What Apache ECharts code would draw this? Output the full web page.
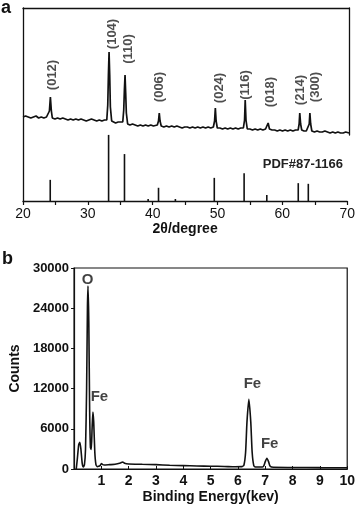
<!DOCTYPE html>
<html>
<head>
<meta charset="utf-8">
<script src="https://cdn.jsdelivr.net/npm/echarts@6/dist/echarts.min.js"></script>
<style>
  html, body { margin: 0; padding: 0; background: #fff; }
  #chart { width: 358px; height: 507px; }
</style>
</head>
<body>
<div id="chart"></div>
<script>
// XRD measured trace, [2theta, intensity a.u.]
const xrdTrace = [
  [20.0, 18], [20.4, 19], [20.8, 18], [21.2, 17], [21.6, 18], [22.0, 19], [22.4, 17], [22.8, 18],
  [23.2, 17], [23.6, 18], [23.9, 18], [24.05, 24], [24.2, 38], [24.35, 24], [24.5, 17], [24.9, 16],
  [25.3, 17], [25.7, 16], [26.1, 17], [26.5, 16], [26.9, 15], [27.3, 16], [27.7, 15], [28.1, 16],
  [28.5, 15], [28.9, 16], [29.3, 15], [29.7, 14], [30.1, 15], [30.5, 16], [30.9, 15], [31.3, 14],
  [31.7, 15], [32.1, 14], [32.5, 15], [32.85, 15], [33.0, 30], [33.1, 60], [33.2, 83], [33.3, 60],
  [33.4, 28], [33.6, 14], [33.9, 13], [34.2, 12], [34.6, 13], [34.9, 12], [35.3, 13], [35.45, 25],
  [35.55, 45], [35.65, 60], [35.75, 42], [35.85, 22], [36.05, 11], [36.4, 10], [36.8, 11], [37.2, 10],
  [37.6, 9], [38.0, 10], [38.4, 9], [38.8, 10], [39.2, 9], [39.6, 10], [40.0, 9], [40.3, 10],
  [40.6, 10], [40.78, 14], [40.9, 22], [41.02, 14], [41.2, 9], [41.6, 8], [42.0, 9], [42.4, 8],
  [42.8, 9], [43.2, 8], [43.6, 9], [44.0, 8], [44.4, 7], [44.8, 8], [45.2, 8], [45.6, 7],
  [46.0, 8], [46.4, 7], [46.8, 8], [47.2, 7], [47.6, 8], [48.0, 7], [48.4, 8], [48.8, 7],
  [49.2, 8], [49.38, 14], [49.5, 27], [49.62, 14], [49.8, 7], [50.2, 7], [50.6, 6], [51.0, 7],
  [51.4, 6], [51.8, 7], [52.2, 6], [52.6, 7], [53.0, 6], [53.4, 7], [53.8, 7], [53.98, 15],
  [54.08, 35], [54.2, 15], [54.4, 6], [54.8, 6], [55.2, 5], [55.6, 6], [56.0, 5], [56.4, 6],
  [56.8, 5], [57.2, 6], [57.4, 6], [57.6, 12], [57.8, 6], [58.2, 5], [58.6, 5], [59.0, 4],
  [59.4, 5], [59.8, 4], [60.2, 5], [60.6, 4], [61.0, 5], [61.4, 4], [61.8, 5], [62.2, 5],
  [62.35, 11], [62.45, 22], [62.58, 11], [62.75, 5], [63.1, 4], [63.45, 4], [63.75, 5], [63.9, 11],
  [64.0, 22], [64.12, 11], [64.3, 4], [64.7, 3], [65.1, 4], [65.5, 3], [65.9, 3], [66.3, 4],
  [66.7, 3], [67.1, 2], [67.5, 3], [67.9, 2], [68.3, 3], [68.7, 2], [69.1, 2], [69.5, 3], [70.0, 2]
];

// reference pattern PDF#87-1166, [2theta, relative intensity]
const pdfSticks = [
  [24.2, 32], [33.2, 100], [35.65, 71], [39.3, 3], [40.9, 20], [43.5, 3],
  [49.5, 35], [54.1, 42], [57.6, 9], [62.45, 27], [64.0, 26]
];

// Miller index labels: [2theta, label height a.u.]
const hklNames = ['(012)', '(104)', '(110)', '(006)', '(024)', '(116)', '(018)', '(214)', '(300)'];
const hklAnchors = [
  [24.45, 60], [33.65, 101], [36.1, 86], [41.0, 48], [50.2, 47],
  [54.05, 50], [57.9, 43], [62.6, 45], [64.9, 48]
];

// EDS spectrum, [keV, counts]
const edsSpectrum = [
  [0.08, 0], [0.12, 1500], [0.17, 3600], [0.21, 4000], [0.25, 3000], [0.3, 800], [0.34, 300],
  [0.38, 600], [0.42, 3000], [0.46, 12000], [0.49, 24000], [0.51, 27300], [0.54, 22000],
  [0.57, 9000], [0.6, 3200], [0.63, 2900], [0.66, 6000], [0.69, 8500], [0.72, 7000], [0.76, 2500],
  [0.8, 700], [0.85, 350], [0.9, 400], [0.95, 500], [1.0, 800], [1.05, 650], [1.1, 600],
  [1.3, 650], [1.5, 700], [1.7, 900], [1.78, 1050], [1.85, 850], [2.0, 750], [2.5, 700],
  [3.0, 650], [3.5, 550], [4.0, 500], [4.5, 450], [5.0, 420], [5.5, 380], [5.9, 330],
  [6.15, 350], [6.22, 600], [6.28, 2500], [6.33, 7000], [6.4, 10400], [6.47, 7000],
  [6.52, 2500], [6.58, 500], [6.65, 300], [6.9, 300], [6.95, 500], [7.0, 1100], [7.06, 1600],
  [7.12, 1100], [7.18, 400], [7.3, 250], [8.0, 230], [9.0, 200], [10.0, 180]
];

// element labels: [keV, counts]
const edsNames = ['O', 'Fe', 'Fe', 'Fe'];
const edsAnchors = [[0.5, 28200], [0.93, 10750], [6.53, 12700], [7.16, 3730]];

const edsYTicks = [0, 6000, 12000, 18000, 24000, 30000];

const font = '"Liberation Sans", Arial, sans-serif';
const black = '#111';

const chart = echarts.init(document.getElementById('chart'));

const option = {
  animation: false,
  backgroundColor: '#fff',
  textStyle: { fontFamily: font, color: black },
  graphic: [
    { type: 'text', left: 1, top: -1, style: { text: 'a', font: 'bold 18px ' + font, fill: black } },
    { type: 'text', left: 2, top: 250, style: { text: 'b', font: 'bold 18px ' + font, fill: black } },
    { type: 'text', right: 15, top: 158, style: { text: 'PDF#87-1166', font: 'bold 13px ' + font, fill: '#222' } }
  ],
  grid: [
    { left: 23, right: 9, top: 8, bottom: 306 },
    { left: 23, right: 9, top: 8, height: 127 },
    { left: 64, right: 9, top: 268, bottom: 38, show: true, borderColor: black, borderWidth: 1.2 }
  ],
  xAxis: [
    {
      gridIndex: 0, type: 'value', min: 20, max: 70, interval: 5,
      axisLine: { onZero: false, lineStyle: { color: black, width: 1.3 } },
      axisTick: { length: 4, lineStyle: { color: black, width: 1.2 } },
      axisLabel: {
        color: black, fontSize: 14, margin: 6,
        formatter: (v) => (v % 10 === 0 ? String(v) : '')
      },
      splitLine: { show: false },
      name: '2θ/degree', nameLocation: 'middle', nameGap: 20,
      nameTextStyle: { fontSize: 14, fontWeight: 'bold', color: black }
    },
    {
      gridIndex: 1, type: 'value', min: 20, max: 70, position: 'top',
      axisLine: { onZero: false, lineStyle: { color: black, width: 1.3 } },
      axisTick: { show: false }, axisLabel: { show: false }, splitLine: { show: false }
    },
    {
      gridIndex: 2, type: 'value', min: 0, max: 10, interval: 1,
      axisLine: { onZero: false, lineStyle: { color: black, width: 1.2 } },
      axisTick: { inside: true, length: 3, lineStyle: { color: black } },
      axisLabel: {
        color: black, fontSize: 14, fontWeight: 'bold', margin: 5,
        formatter: (v) => (v === 0 ? '' : String(v))
      },
      splitLine: { show: false },
      name: 'Binding Energy(kev)', nameLocation: 'middle', nameGap: 21,
      nameTextStyle: { fontSize: 14, fontWeight: 'bold', color: black }
    }
  ],
  yAxis: [
    {
      gridIndex: 0, type: 'value', min: 0, max: 292,
      axisLine: { show: true, onZero: false, lineStyle: { color: black, width: 1.3 } },
      axisTick: { show: false }, axisLabel: { show: false }, splitLine: { show: false }
    },
    {
      gridIndex: 1, type: 'value', min: 0, max: 127, position: 'right',
      axisLine: { show: true, onZero: false, lineStyle: { color: black, width: 1.3 } },
      axisTick: { show: false }, axisLabel: { show: false }, splitLine: { show: false }
    },
    {
      gridIndex: 2, type: 'value', min: 0, max: 30000, interval: 6000,
      axisLine: { show: true, onZero: false, lineStyle: { color: black, width: 1.2 } },
      axisTick: { length: 3, lineStyle: { color: black } },
      axisLabel: {
        color: black, fontSize: 13, fontWeight: 'bold', margin: 5,
        formatter: (v) => (edsYTicks.includes(v) ? String(v) : '')
      },
      splitLine: { show: false },
      name: 'Counts', nameLocation: 'middle', nameGap: 45,
      nameTextStyle: { fontSize: 14, fontWeight: 'bold', color: black }
    }
  ],
  series: [
    {
      type: 'bar', xAxisIndex: 0, yAxisIndex: 0,
      data: pdfSticks, barWidth: 1.6,
      itemStyle: { color: black }
    },
    {
      type: 'line', xAxisIndex: 1, yAxisIndex: 1,
      data: xrdTrace, showSymbol: false,
      lineStyle: { color: black, width: 1.7 }
    },
    {
      type: 'scatter', xAxisIndex: 1, yAxisIndex: 1,
      data: hklAnchors.map((p, i) => ({ value: p, name: hklNames[i] })),
      symbolSize: 1, itemStyle: { color: 'rgba(0,0,0,0)' },
      label: {
        show: true, position: 'inside', rotate: 90,
        formatter: (p) => p.name, fontSize: 13, fontWeight: 'bold', color: '#222', fontFamily: font
      }
    },
    {
      type: 'line', xAxisIndex: 2, yAxisIndex: 2,
      data: edsSpectrum, showSymbol: false, smooth: 0.2,
      lineStyle: { color: black, width: 1.6 }
    },
    {
      type: 'scatter', xAxisIndex: 2, yAxisIndex: 2,
      data: edsAnchors.map((p, i) => ({ value: p, name: edsNames[i] })),
      symbolSize: 1, itemStyle: { color: 'rgba(0,0,0,0)' },
      label: {
        show: true, position: 'inside',
        formatter: (p) => p.name, fontSize: 15, fontWeight: 'bold', color: black, fontFamily: font
      }
    }
  ]
};

chart.setOption(option);
</script>
</body>
</html>
